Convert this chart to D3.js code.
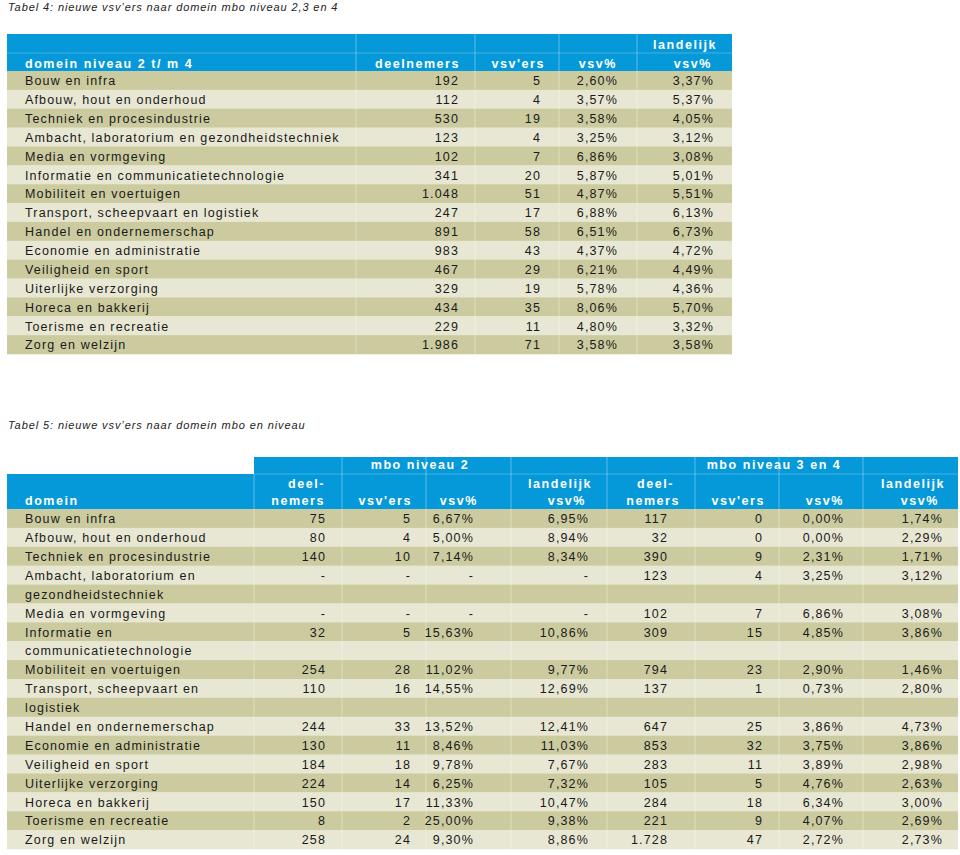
<!DOCTYPE html>
<html><head><meta charset="utf-8">
<script src="https://cdn.jsdelivr.net/npm/d3@7"></script>
<style>
body{margin:0;background:#fff}
svg{display:block}
text{font-family:"Liberation Sans",Arial,Helvetica,sans-serif}
</style>
</head><body>
<script>
// ---------- Data: Tabel 4 ----------
const t4Title = "Tabel 4: nieuwe vsv\u2019ers naar domein mbo niveau 2,3 en 4";
const t4Domains = ["Bouw en infra","Afbouw, hout en onderhoud","Techniek en procesindustrie",
  "Ambacht, laboratorium en gezondheidstechniek","Media en vormgeving","Informatie en communicatietechnologie",
  "Mobiliteit en voertuigen","Transport, scheepvaart en logistiek","Handel en ondernemerschap",
  "Economie en administratie","Veiligheid en sport","Uiterlijke verzorging","Horeca en bakkerij",
  "Toerisme en recreatie","Zorg en welzijn"];
const t4Deelnemers = ["192","112","530","123","102","341","1.048","247","891","983","467","329","434","229","1.986"];
const t4Vsvers = ["5","4","19","4","7","20","51","17","58","43","29","19","35","11","71"];
const t4VsvPct = ["2,60%","3,57%","3,58%","3,25%","6,86%","5,87%","4,87%","6,88%","6,51%","4,37%","6,21%","5,78%","8,06%","4,80%","3,58%"];
const t4Landelijk = ["3,37%","5,37%","4,05%","3,12%","3,08%","5,01%","5,51%","6,13%","6,73%","4,72%","4,49%","4,36%","5,70%","3,32%","3,58%"];

// ---------- Data: Tabel 5 ----------
const t5Title = "Tabel 5: nieuwe vsv\u2019ers naar domein mbo en niveau";
const t5Domains = [["Bouw en infra"],["Afbouw, hout en onderhoud"],["Techniek en procesindustrie"],
  ["Ambacht, laboratorium en","gezondheidstechniek"],["Media en vormgeving"],["Informatie en","communicatietechnologie"],
  ["Mobiliteit en voertuigen"],["Transport, scheepvaart en","logistiek"],["Handel en ondernemerschap"],
  ["Economie en administratie"],["Veiligheid en sport"],["Uiterlijke verzorging"],["Horeca en bakkerij"],
  ["Toerisme en recreatie"],["Zorg en welzijn"]];
const n2Deelnemers = ["75","80","140","-","-","32","254","110","244","130","184","224","150","8","258"];
const n2Vsvers = ["5","4","10","-","-","5","28","16","33","11","18","14","17","2","24"];
const n2VsvPct = ["6,67%","5,00%","7,14%","-","-","15,63%","11,02%","14,55%","13,52%","8,46%","9,78%","6,25%","11,33%","25,00%","9,30%"];
const n2Landelijk = ["6,95%","8,94%","8,34%","-","-","10,86%","9,77%","12,69%","12,41%","11,03%","7,67%","7,32%","10,47%","9,38%","8,86%"];
const n3Deelnemers = ["117","32","390","123","102","309","794","137","647","853","283","105","284","221","1.728"];
const n3Vsvers = ["0","0","9","4","7","15","23","1","25","32","11","5","18","9","47"];
const n3VsvPct = ["0,00%","0,00%","2,31%","3,25%","6,86%","4,85%","2,90%","0,73%","3,86%","3,75%","3,89%","4,76%","6,34%","4,07%","2,72%"];
const n3Landelijk = ["1,74%","2,29%","1,71%","3,12%","3,08%","3,86%","1,46%","2,80%","4,73%","3,86%","2,98%","2,63%","3,00%","2,69%","2,73%"];

// ---------- Styles / layout ----------
const BLUE = "#0599da", DARK = "#cbcb9f", LIGHT = "#e7e7d3", TXT = "#1a1a1a";
const FS = 12.5, LS = 1.15, HFS = 12.5, HLS = 1.55;

const svg = d3.select("body").append("svg").attr("width", 960).attr("height", 855);

function txt(g, x, y, s, anchor, opts = {}) {
  return g.append("text").attr("x", x).attr("y", y).attr("text-anchor", anchor || "start")
    .attr("font-size", opts.size || FS).attr("letter-spacing", opts.ls != null ? opts.ls : LS)
    .attr("font-weight", opts.bold ? "bold" : null).attr("font-style", opts.italic ? "italic" : null)
    .attr("fill", opts.fill || TXT).text(s);
}
const H = (g, x, y, s, anchor) => txt(g, x, y, s, anchor, {bold: true, fill: "#fff", ls: HLS, size: HFS});

// ================= Tabel 4 =================
{
  const g = svg.append("g");
  txt(g, 8, 11, t4Title, "start", {italic: true, size: 11, ls: 0.9, fill: "#222"});
  const left = 7, right = 732, hTop = 34, hMid = 53, dTop = 71, dBot = 354;
  const bounds = [356, 475, 559, 637];
  const y = d3.scaleBand().domain(d3.range(t4Domains.length)).range([dTop, dBot]);

  g.append("rect").attr("x", left).attr("y", hTop).attr("width", right - left).attr("height", dTop - hTop).attr("fill", BLUE);
  g.append("line").attr("x1", left).attr("x2", right).attr("y1", hMid).attr("y2", hMid).attr("stroke", "#fff").attr("stroke-opacity", 0.25);

  g.selectAll("rect.row").data(t4Domains).join("rect").attr("class", "row")
    .attr("x", left).attr("width", right - left)
    .attr("y", (d, i) => y(i)).attr("height", y.bandwidth() + 0.3)
    .attr("fill", (d, i) => i % 2 === 0 ? DARK : LIGHT);

  g.selectAll("line.col").data(bounds).join("line").attr("class", "col")
    .attr("x1", d => d).attr("x2", d => d).attr("y1", hTop).attr("y2", dBot)
    .attr("stroke", "#fff").attr("stroke-opacity", 0.35);

  H(g, 25, 68, "domein niveau 2 t/ m 4", "start");
  H(g, 460, 68, "deelnemers", "end");
  H(g, 545, 68, "vsv'ers", "end");
  H(g, 617, 68, "vsv%", "end");
  H(g, 717, 49, "landelijk", "end");
  H(g, 712, 68, "vsv%", "end");

  const cols = [
    {vals: t4Domains, x: 25, a: "start"},
    {vals: t4Deelnemers, x: 459, a: "end"},
    {vals: t4Vsvers, x: 541, a: "end"},
    {vals: t4VsvPct, x: 618, a: "end"},
    {vals: t4Landelijk, x: 714, a: "end"}
  ];
  const by = i => y(i) + y.bandwidth() / 2 + 4.8;
  cols.forEach(c => {
    g.selectAll(null).data(c.vals).join("text")
      .attr("x", c.x).attr("y", (d, i) => by(i)).attr("text-anchor", c.a)
      .attr("font-size", FS).attr("letter-spacing", LS).attr("fill", TXT).text(d => d);
  });
}

// ================= Tabel 5 =================
{
  const g = svg.append("g");
  txt(g, 8, 429, t5Title, "start", {italic: true, size: 11, ls: 0.9, fill: "#222"});
  const left = 7, right = 958, topTop = 457, hTop = 474, dTop = 509, dBot = 849, spanLeft = 254;
  const bounds = [254, 342, 426, 511, 607, 695, 779, 863];

  // visual rows (domains may wrap to two lines)
  const vrows = [];
  t5Domains.forEach((lines, i) => lines.forEach((l, k) => vrows.push({domain: i, line: l, first: k === 0})));
  const y = d3.scaleBand().domain(d3.range(vrows.length)).range([dTop, dBot]);

  g.append("rect").attr("x", spanLeft).attr("y", topTop).attr("width", right - spanLeft).attr("height", hTop - topTop).attr("fill", BLUE);
  g.append("rect").attr("x", left).attr("y", hTop).attr("width", right - left).attr("height", dTop - hTop).attr("fill", BLUE);
  g.append("line").attr("x1", spanLeft).attr("x2", right).attr("y1", hTop).attr("y2", hTop).attr("stroke", "#fff").attr("stroke-opacity", 0.25);

  g.selectAll("rect.row").data(vrows).join("rect").attr("class", "row")
    .attr("x", left).attr("width", right - left)
    .attr("y", (d, i) => y(i)).attr("height", y.bandwidth() + 0.3)
    .attr("fill", (d, i) => i % 2 === 0 ? DARK : LIGHT);

  g.selectAll("line.col").data(bounds).join("line").attr("class", "col")
    .attr("x1", d => d).attr("x2", d => d).attr("y1", d => d === 254 ? hTop : topTop).attr("y2", dBot)
    .attr("stroke", "#fff").attr("stroke-opacity", 0.35);

  H(g, 420, 469, "mbo niveau 2", "middle");
  H(g, 774, 469, "mbo niveau 3 en 4", "middle");
  H(g, 25, 505, "domein", "start");
  H(g, 325, 488, "deel-", "end");
  H(g, 325, 505, "nemers", "end");
  H(g, 412, 505, "vsv'ers", "end");
  H(g, 478, 505, "vsv%", "end");
  H(g, 592, 488, "landelijk", "end");
  H(g, 586, 505, "vsv%", "end");
  H(g, 674, 488, "deel-", "end");
  H(g, 680, 505, "nemers", "end");
  H(g, 765, 505, "vsv'ers", "end");
  H(g, 844, 505, "vsv%", "end");
  H(g, 945, 488, "landelijk", "end");
  H(g, 939, 505, "vsv%", "end");

  const by = i => y(i) + y.bandwidth() / 2 + 4.8;
  g.selectAll("text.dom").data(vrows).join("text").attr("class", "dom")
    .attr("x", 25).attr("y", (d, i) => by(i))
    .attr("font-size", FS).attr("letter-spacing", LS).attr("fill", TXT).text(d => d.line);

  const firstIdx = vrows.map((r, i) => r.first ? i : -1).filter(i => i >= 0);
  const cols = [
    {vals: n2Deelnemers, x: 326}, {vals: n2Vsvers, x: 411}, {vals: n2VsvPct, x: 474}, {vals: n2Landelijk, x: 589},
    {vals: n3Deelnemers, x: 668}, {vals: n3Vsvers, x: 763}, {vals: n3VsvPct, x: 844}, {vals: n3Landelijk, x: 943}
  ];
  cols.forEach(c => {
    g.selectAll(null).data(c.vals).join("text")
      .attr("x", c.x).attr("y", (d, i) => by(firstIdx[i])).attr("text-anchor", "end")
      .attr("font-size", FS).attr("letter-spacing", LS).attr("fill", TXT).text(d => d);
  });
}
</script>
</body></html>
